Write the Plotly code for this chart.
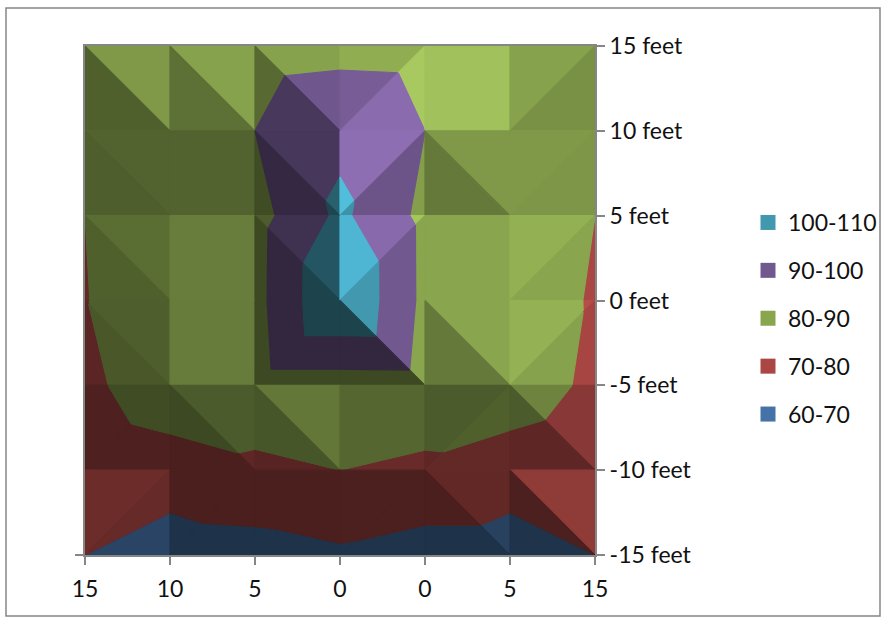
import plotly.graph_objects as go

# ---- data -----------------------------------------------------------------
x_labels = ["15", "10", "5", "0", "0", "5", "15"]
y_values = [15, 10, 5, 0, -5, -10, -15]
y_labels = ["15 feet", "10 feet", "5 feet", "0 feet", "-5 feet", "-10 feet", "-15 feet"]

row_p15 = [86.0, 84.0, 85.9, 87.0, 86.5, 85.5, 85.0]
row_p10 = [85.0, 87.0, 90.0, 97.6, 90.0, 89.0, 86.0]
row_p05 = [80.0, 84.0, 86.3, 102.0, 87.4, 87.0, 80.0]
row_000 = [79.7, 85.0, 86.6, 110.5, 87.5, 86.0, 79.0]
row_m05 = [77.5, 86.7, 85.2, 85.2, 85.5, 86.2, 77.7]
row_m10 = [72.0, 75.0, 78.3, 80.0, 78.3, 74.5, 71.0]
row_m15 = [70.0, 65.0, 65.8, 68.4, 65.5, 65.5, 70.0]
rows = [row_p15, row_p10, row_p05, row_000, row_m05, row_m10, row_m15]

band_names = ["60-70", "70-80", "80-90", "90-100", "100-110"]
band_low = [60, 70, 80, 90, 100]
band_high = [70, 80, 90, 100, 1000]

# ---- styling of the surface ------------------------------------------------
band_colors = ["#4572A7", "#AA4643", "#89A54E", "#71588F", "#4198AF"]

# how each grid cell is split: "\" or "/"
cell_split = [
    ["\\", "\\", "\\", "/", "\\", "/"],
    ["\\", "\\", "\\", "/", "\\", "/"],
    ["\\", "\\", "\\", "/", "\\", "/"],
    ["\\", "\\", "/", "\\", "\\", "/"],
    ["/", "\\", "\\", "/", "/", "\\"],
    ["/", "/", "/", "/", "\\", "\\"],
]
# facet lighting of each cell: (upper facet, lower facet)
cell_light = [
    [(.93, .58), (.98, .68), (.98, .64), (1.05, 1.22), (1.17, 1.17), (.98, .88)],
    [(.60, .57), (.60, .60), (.63, .46), (1.25, .96), (.93, .74), (.93, .91)],
    [(.66, .58), (.76, .76), (.56, .44), (1.20, 1.00), (1.00, 1.00), (1.07, 1.00)],
    [(.57, .53), (.75, .75), (.44, .44), (1.00, .44), (1.00, .74), (1.08, .98)],
    [(.46, .46), (.55, .44), (.72, .52), (.62, .62), (.55, .58), (.80, .55)],
    [(.63, .60), (.44, .44), (.44, .44), (.45, .45), (.57, .44), (.84, .45)],
]


def shade(color, k):
    r, g, b = (int(color[i:i + 2], 16) for i in (1, 3, 5))
    return "rgb(%d,%d,%d)" % tuple(min(255, round(v * k)) for v in (r, g, b))


def clip(poly, limit, keep_above):
    out = []
    for i, p in enumerate(poly):
        q = poly[(i + 1) % len(poly)]
        pin = p[2] >= limit if keep_above else p[2] <= limit
        qin = q[2] >= limit if keep_above else q[2] <= limit
        if pin:
            out.append(p)
        if pin != qin:
            t = (limit - p[2]) / (q[2] - p[2])
            out.append(tuple(p[j] + t * (q[j] - p[j]) for j in range(3)))
    return out


def node(r, c):
    return (c, y_values[r], rows[r][c])


fig = go.Figure()

for r in range(6):
    for c in range(6):
        tl, tr, bl, br = node(r, c), node(r, c + 1), node(r + 1, c), node(r + 1, c + 1)
        if cell_split[r][c] == "\\":
            facets = [(tl, tr, br), (tl, bl, br)]
        else:
            facets = [(tl, tr, bl), (tr, bl, br)]
        for facet, light in zip(facets, cell_light[r][c]):
            for lo, hi, col in zip(band_low, band_high, band_colors):
                poly = clip(clip(list(facet), lo, True), hi, False)
                if len(poly) < 3:
                    continue
                fc = shade(col, light)
                fig.add_trace(go.Scatter(
                    x=[p[0] for p in poly] + [poly[0][0]],
                    y=[p[1] for p in poly] + [poly[0][1]],
                    mode="lines", fill="toself", fillcolor=fc,
                    line=dict(color=fc, width=1.2),
                    hoverinfo="skip", showlegend=False))

# legend entries, top to bottom
for name, col in list(zip(band_names, band_colors))[::-1]:
    fig.add_trace(go.Scatter(
        x=[None], y=[None], mode="markers", name=name, legendgroup=name,
        marker=dict(symbol="square", size=15, color=col)))

AX = "#868686"
FONT = dict(family="Lato, Carlito, Calibri, sans-serif", size=23, color="#111111")
W, H = 886, 624
L, R, T, B = 85, 595, 46, 555


def px(v):
    return (v - L) / (R - L)


def py(v):
    return (B - v) / (B - T)


fig.update_layout(
    width=W, height=H,
    margin=dict(l=L, r=W - R, t=T, b=H - B, pad=0),
    paper_bgcolor="white", plot_bgcolor="white",
    font=FONT,
    legend=dict(xref="container", yref="container",
                x=748 / W, y=1 - 201 / H, xanchor="left", yanchor="top",
                tracegroupgap=15, font=FONT, bgcolor="rgba(0,0,0,0)",
                itemclick=False, itemdoubleclick=False),
    xaxis=dict(range=[0, 6], tickmode="array", tickvals=list(range(7)), ticktext=x_labels,
               showgrid=False, zeroline=False, showline=True, mirror=True,
               linecolor=AX, linewidth=2, ticks="outside", ticklen=8, tickwidth=1.5,
               tickcolor=AX, tickfont=FONT, ticklabelstandoff=4),
    yaxis=dict(range=[-15, 15], tickmode="array", tickvals=y_values, ticktext=y_labels,
               side="right", showgrid=False, zeroline=False, showline=True, mirror=True,
               linecolor=AX, linewidth=2, ticks="outside", ticklen=8, tickwidth=1.5,
               tickcolor=AX, tickfont=FONT, ticklabelstandoff=0),
    shapes=[
        dict(type="rect", xref="x domain", yref="y domain",
             x0=px(6), x1=px(880), y0=py(616), y1=py(8),
             line=dict(color=AX, width=1.5), layer="below"),
        dict(type="line", xref="x domain", yref="y domain",
             x0=px(75), x1=px(85), y0=0, y1=0,
             line=dict(color=AX, width=2)),
    ],
)

fig.write_html("out.html", config={"displayModeBar": False},
               post_script="document.body.style.margin='0';")
